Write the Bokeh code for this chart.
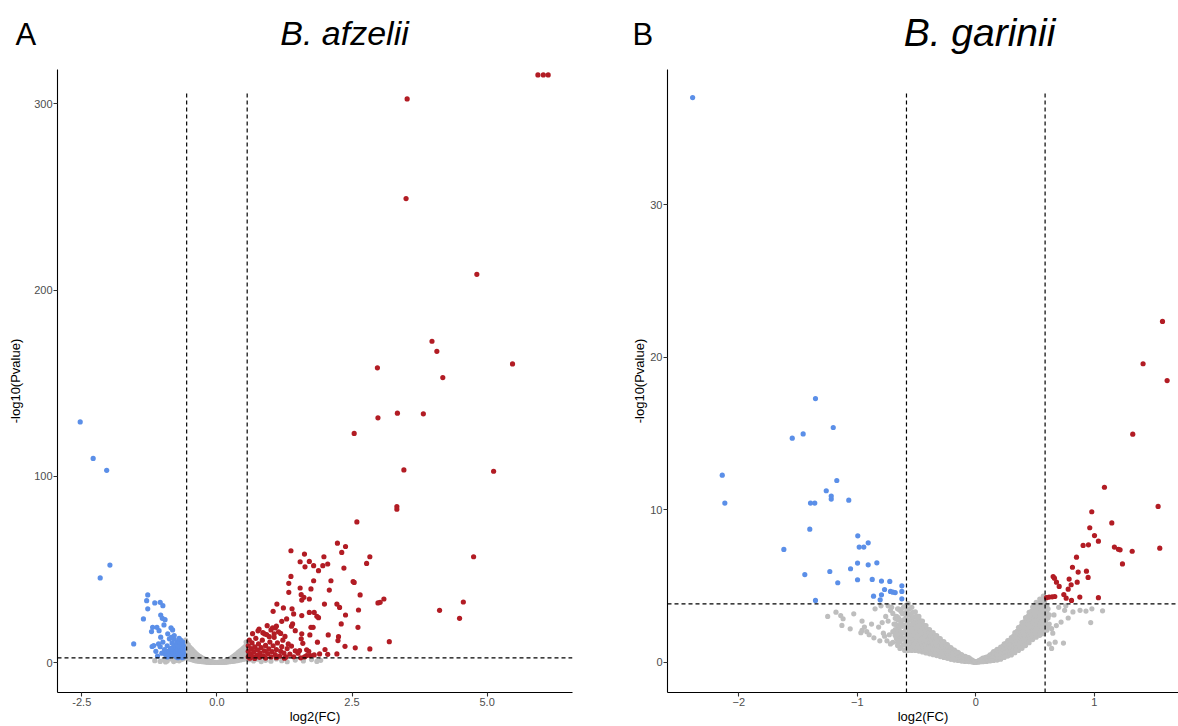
from bokeh.plotting import figure
from bokeh.layouts import row, column
from bokeh.models import Span, FixedTicker, NumeralTickFormatter, Range1d
from bokeh.core.properties import value
from bokeh.embed import file_html
from bokeh.resources import INLINE

FONT = "Liberation Sans"
BLUE = "#5B8FE8"
RED = "#B21C24"
GRAY = "#BEBEBE"

# ---------------- Panel A : B. afzelii ----------------
a_tag = "A"
a_title = "B. afzelii"
a_fc_cut = 0.56
a_p_cut = 2.5
a_xticks = [-2.5, 0.0, 2.5, 5.0]
a_yticks = [0, 100, 200, 300]

a_blue = [(-2.53, 129.2), (-2.29, 109.6), (-2.04, 103.2), (-1.98, 52.3), (-2.16, 45.4),
          (-1.28, 36.3), (-1.30, 33.2), (-1.15, 32.0), (-1.05, 32.3), (-1.00, 30.5), (-1.28, 28.8),
          (-1.36, 23.4), (-1.04, 25.5), (-1.01, 23.7), (-0.96, 23.0), (-0.98, 20.2), (-1.11, 18.9),
          (-1.19, 18.9), (-1.21, 16.6), (-1.07, 17.1), (-0.85, 18.6), (-0.82, 17.5), (-1.54, 10.0),
          (-1.20, 8.6), (-1.17, 9.1), (-1.04, 13.6), (-0.91, 15.4), (-0.88, 12.7), (-0.79, 14.5),
          (-0.62, 3.0), (-0.62, 5.0), (-0.62, 7.0), (-0.62, 9.0), (-0.63, 11.0), (-0.65, 4.0),
          (-0.65, 6.0), (-0.65, 8.0), (-0.66, 10.0), (-0.67, 12.0), (-0.68, 3.5), (-0.68, 5.5),
          (-0.69, 7.5), (-0.70, 9.5), (-0.71, 4.5), (-0.72, 6.5), (-0.73, 8.5), (-0.74, 11.0),
          (-0.75, 3.0), (-0.76, 5.0), (-0.77, 7.0), (-0.78, 9.5), (-0.80, 4.0), (-0.81, 6.0),
          (-0.82, 8.0), (-0.83, 10.5), (-0.85, 5.0), (-0.86, 7.5), (-0.88, 3.5), (-0.90, 6.0),
          (-0.92, 9.0), (-0.95, 4.5), (-0.97, 7.0), (-1.00, 11.0), (-1.02, 5.0), (-1.05, 8.5),
          (-1.08, 10.0), (-0.79, 12.5), (-0.84, 13.5), (-0.70, 13.0), (-0.64, 2.6), (-0.72, 2.6),
          (-0.92, 3.0), (-1.10, 3.5), (-1.13, 6.0), (-0.94, 3.7), (-0.85, 7.3)]

a_red = [(5.94, 315.5), (6.04, 315.5), (6.13, 315.5), (3.52, 302.6), (3.50, 249.1), (4.81, 208.4),
         (3.98, 172.5), (4.07, 167.1), (5.47, 160.3), (2.97, 158.2), (4.18, 153.0), (2.98, 131.4),
         (3.34, 133.9), (3.82, 133.5), (2.54, 123.0), (3.46, 103.4), (5.12, 102.7), (3.33, 83.7),
         (3.33, 82.3), (2.59, 75.5), (4.75, 56.8), (4.56, 32.5), (4.12, 28.0), (4.49, 23.7),
         (3.19, 11.2),
         (2.23, 64.1), (2.38, 62.3), (2.31, 59.1), (1.37, 60.0), (1.62, 58.2), (1.54, 54.1),
         (1.71, 54.3), (1.63, 51.4), (1.79, 52.0), (1.88, 49.3), (1.96, 52.0), (1.98, 56.8),
         (2.05, 52.9), (2.35, 50.7), (2.77, 53.2), (2.83, 56.8), (1.37, 46.2), (1.33, 42.5),
         (1.79, 43.9), (2.11, 43.9), (2.52, 43.5), (2.54, 43.0), (1.33, 37.7), (1.54, 40.0),
         (1.74, 39.5), (2.08, 38.9), (1.56, 36.4), (1.61, 35.0), (1.71, 34.1), (1.57, 33.5),
         (2.65, 36.3), (2.98, 32.0), (3.02, 32.3), (3.09, 34.1), (1.11, 31.4), (1.04, 27.5),
         (1.23, 29.3), (1.39, 28.8), (1.42, 26.1), (1.57, 25.2), (1.71, 26.9), (1.80, 26.9),
         (1.85, 24.8), (1.88, 24.1), (1.99, 31.4), (2.22, 31.4), (2.27, 29.6), (2.38, 25.5),
         (2.62, 28.2), (2.30, 20.7), (2.61, 18.9), (2.06, 14.8), (2.25, 13.9), (2.24, 11.8),
         (2.37, 8.7), (2.56, 7.9), (2.83, 7.3), (2.22, 4.6), (1.74, 18.9), (1.78, 18.9),
         (1.72, 14.8), (1.86, 10.9), (1.59, 10.3), (1.66, 6.8), (1.73, 3.7), (1.66, 3.7),
         (1.80, 4.1), (1.53, 6.4), (1.56, 12.7), (1.57, 15.4), (1.45, 17.1), (1.40, 20.7),
         (1.38, 19.5), (1.29, 23.4), (1.20, 22.1), (1.08, 18.6), (1.03, 18.6), (0.93, 19.8),
         (0.88, 15.4), (0.78, 18.0), (0.97, 13.9), (1.06, 15.4),
         (0.58, 3.0), (0.58, 6.0), (0.58, 9.0), (0.60, 12.0), (0.62, 4.5), (0.63, 7.5),
         (0.65, 10.5), (0.67, 3.2), (0.68, 5.8), (0.70, 8.4), (0.72, 13.0), (0.74, 4.0),
         (0.75, 6.8), (0.77, 10.0), (0.79, 2.8), (0.80, 5.2), (0.82, 8.0), (0.84, 12.0),
         (0.86, 3.6), (0.88, 6.2), (0.90, 9.2), (0.92, 15.0), (0.94, 4.8), (0.96, 7.3),
         (0.98, 11.0), (1.00, 3.0), (1.02, 5.8), (1.04, 9.0), (1.06, 13.5), (1.08, 4.2),
         (1.10, 7.0), (1.12, 10.5), (1.14, 16.5), (1.16, 3.4), (1.18, 6.0), (1.20, 8.5),
         (1.22, 12.0), (1.24, 5.0), (1.26, 14.0), (1.28, 3.0), (1.30, 7.5), (1.32, 10.0),
         (1.35, 4.5), (1.38, 8.8), (0.66, 15.5), (0.76, 17.0), (0.85, 16.0), (1.00, 17.5),
         (1.10, 19.5), (1.18, 15.6), (0.61, 2.3), (0.70, 2.2), (0.90, 2.4), (1.10, 2.6),
         (1.25, 2.3), (1.42, 3.1), (1.45, 6.3), (1.50, 5.0), (1.55, 2.5), (1.62, 3.0),
         (1.70, 6.0), (1.90, 4.6), (2.00, 7.0), (2.05, 4.4)]

a_gray = [(-0.58, 3), (-0.58, 6), (-0.58, 9), (-0.58, 12), (-0.56, 4.5), (-0.56, 7.5), (-0.56, 10.5),
          (-0.55, 2.5), (-0.55, 5), (-0.55, 8), (-0.53, 3.5), (-0.53, 6.5), (-0.53, 9.5),
          (-0.52, 2), (-0.52, 4.5), (-0.52, 7), (-0.50, 3.0), (-0.50, 5.5), (-0.50, 8.2),
          (-0.49, 1.8), (-0.49, 4), (-0.49, 6.6), (-0.47, 2.6), (-0.47, 4.8), (-0.47, 7.4),
          (-0.46, 1.5), (-0.46, 3.5), (-0.46, 5.8), (-0.44, 2.2), (-0.44, 4.2), (-0.44, 6.4),
          (-0.43, 1.2), (-0.43, 3), (-0.43, 5.0), (-0.41, 1.8), (-0.41, 3.6), (-0.41, 5.4),
          (-0.40, 1), (-0.40, 2.5), (-0.40, 4.4), (-0.38, 1.5), (-0.38, 3.0), (-0.38, 4.6),
          (-0.37, 0.8), (-0.37, 2), (-0.37, 3.8), (-0.35, 1.3), (-0.35, 2.6), (-0.35, 3.9),
          (-0.34, 0.7), (-0.34, 1.8), (-0.34, 3.2), (-0.32, 1.1), (-0.32, 2.2), (-0.32, 3.3),
          (-0.31, 0.6), (-0.31, 1.5), (-0.31, 2.7), (-0.29, 0.9), (-0.29, 1.9), (-0.29, 2.8),
          (-0.28, 0.5), (-0.28, 1.2), (-0.28, 2.3), (-0.26, 0.7), (-0.26, 1.5), (-0.26, 2.3),
          (-0.25, 0.4), (-0.25, 1), (-0.25, 1.9), (-0.23, 0.6), (-0.23, 1.2), (-0.23, 1.8),
          (-0.22, 0.3), (-0.22, 0.8), (-0.22, 1.5), (-0.20, 0.5), (-0.20, 1.0), (-0.20, 1.4),
          (-0.19, 0.25), (-0.19, 0.6), (-0.19, 1.2), (-0.17, 0.4), (-0.17, 0.8), (-0.17, 1.1),
          (-0.16, 0.2), (-0.16, 0.5), (-0.16, 0.9), (-0.14, 0.3), (-0.14, 0.6), (-0.14, 0.8),
          (-0.13, 0.15), (-0.13, 0.4), (-0.11, 0.2), (-0.11, 0.5), (-0.10, 0.1), (-0.10, 0.3),
          (-0.08, 0.15), (-0.08, 0.3), (-0.07, 0.05), (-0.05, 0.1), (-0.04, 0.02), (-0.02, 0.05),
          (0.0, 0.0), (0.02, 0.04), (0.04, 0.03), (0.04, 0.12), (0.05, 0.2), (0.07, 0.06),
          (0.07, 0.3), (0.08, 0.15), (0.10, 0.1), (0.10, 0.4), (0.11, 0.25), (0.13, 0.15),
          (0.13, 0.55), (0.14, 0.35), (0.16, 0.2), (0.16, 0.7), (0.17, 0.45), (0.17, 1.0),
          (0.19, 0.3), (0.19, 0.8), (0.19, 1.3), (0.20, 0.55), (0.20, 1.1), (0.22, 0.4),
          (0.22, 1.0), (0.22, 1.7), (0.23, 0.7), (0.23, 1.4), (0.25, 0.5), (0.25, 1.3),
          (0.25, 2.2), (0.26, 0.9), (0.26, 1.8), (0.28, 0.6), (0.28, 1.6), (0.28, 2.8),
          (0.29, 1.1), (0.29, 2.2), (0.31, 0.7), (0.31, 2.0), (0.31, 3.4), (0.32, 1.3),
          (0.32, 2.7), (0.34, 0.9), (0.34, 2.4), (0.34, 4.1), (0.35, 1.6), (0.35, 3.2),
          (0.37, 1.0), (0.37, 2.8), (0.37, 4.8), (0.38, 1.9), (0.38, 3.8), (0.40, 1.2),
          (0.40, 3.2), (0.40, 5.6), (0.41, 2.2), (0.41, 4.4), (0.43, 1.4), (0.43, 3.6),
          (0.43, 6.3), (0.44, 2.5), (0.44, 5.0), (0.46, 1.6), (0.46, 4.0), (0.46, 7.0),
          (0.47, 2.8), (0.47, 5.7), (0.49, 1.8), (0.49, 4.5), (0.49, 7.8), (0.50, 3.2),
          (0.50, 6.3), (0.52, 2.0), (0.52, 5.0), (0.52, 8.6), (0.53, 3.6), (0.53, 7.0),
          (0.55, 2.3), (0.55, 5.5), (0.55, 9.5), (0.54, 11.0),
          (-1.15, 1.0), (-1.05, 0.6), (-0.98, 1.5), (-0.92, 0.8), (-0.85, 1.9), (-0.80, 0.5),
          (-0.75, 1.2), (-0.70, 0.9), (-0.66, 1.6), (-0.62, 2.0), (-0.95, 0.3), (0.60, 1.5),
          (0.68, 0.8), (0.75, 1.8), (0.82, 0.5), (0.90, 1.2), (1.00, 0.7), (1.10, 1.9), (1.20, 1.0),
          (1.30, 0.4), (1.45, 1.3), (1.60, 0.8), (1.75, 1.6), (1.85, 0.6), (1.92, 1.2)]

# ---------------- Panel B : B. garinii ----------------
b_tag = "B"
b_title = "B. garinii"
b_fc_cut = 0.585
b_p_cut = 3.83
b_xticks = [-2, -1, 0, 1]
b_yticks = [0, 10, 20, 30]

b_blue = [(-2.39, 37.05), (-1.353, 17.30), (-1.203, 15.40), (-1.549, 14.70), (-1.457, 14.98),
          (-2.140, 12.27), (-2.118, 10.44), (-1.173, 11.92), (-1.262, 11.25), (-1.220, 10.9),
          (-1.220, 10.7), (-1.072, 10.63), (-1.395, 10.44), (-1.359, 10.44), (-1.401, 8.73),
          (-1.620, 7.40), (-0.996, 8.29), (-0.984, 7.55), (-0.945, 7.55), (-0.908, 7.83),
          (-0.998, 6.50), (-0.908, 6.39), (-0.835, 6.52), (-1.057, 6.13), (-1.443, 5.75),
          (-1.232, 5.95), (-1.165, 5.21), (-0.998, 5.41), (-0.874, 5.43), (-0.796, 5.32),
          (-0.726, 5.30), (-0.770, 4.77), (-0.72, 4.64), (-0.70, 4.59), (-0.68, 4.57),
          (-0.624, 5.01), (-0.624, 4.64), (-0.624, 4.16), (-0.796, 4.42), (-0.863, 4.33),
          (-0.807, 4.09), (-1.353, 4.05)]

b_red = [(1.576, 22.36), (1.412, 19.58), (1.615, 18.48), (1.325, 14.96), (1.086, 11.48),
         (1.539, 10.22), (0.979, 9.87), (1.148, 9.14), (0.962, 8.82), (1.002, 8.31), (1.035, 7.94),
         (0.906, 7.66), (0.951, 7.70), (1.170, 7.55), (1.204, 7.41), (1.218, 7.37), (1.320, 7.28),
         (1.553, 7.48), (0.850, 6.89), (1.238, 6.45), (0.816, 6.23), (0.864, 5.91), (0.934, 5.97),
         (0.948, 5.56), (0.788, 5.45), (0.856, 5.25), (0.805, 5.08), (0.653, 5.62), (0.664, 5.51),
         (0.681, 5.25), (0.704, 4.97), (0.780, 4.79), (0.743, 4.44), (0.763, 4.20), (0.808, 4.05),
         (0.878, 4.27), (1.035, 4.23), (0.597, 4.23), (0.619, 4.27), (0.645, 4.29), (0.667, 4.31)]

# gray (non-significant) cloud of panel B, read column by column: log2FC -> -log10(P) values
b_gray_left = [
    (-0.01, [0.0, 0.01, 0.02, 0.03]), (-0.02, [0.02, 0.04, 0.06, 0.07]),
    (-0.03, [0.02, 0.04, 0.07, 0.1, 0.13]), (-0.04, [0.03, 0.08, 0.12, 0.16]),
    (-0.05, [0.07, 0.12, 0.18, 0.23]), (-0.06, [0.04, 0.1, 0.17, 0.23, 0.3]),
    (-0.07, [0.07, 0.14, 0.22, 0.29]), (-0.08, [0.1, 0.18, 0.26, 0.33]),
    (-0.09, [0.05, 0.13, 0.21, 0.3, 0.38]), (-0.10, [0.08, 0.17, 0.25, 0.34]),
    (-0.11, [0.13, 0.22, 0.32, 0.42]), (-0.12, [0.07, 0.18, 0.29, 0.39, 0.5]),
    (-0.13, [0.12, 0.24, 0.35, 0.47]), (-0.14, [0.18, 0.3, 0.43, 0.56]),
    (-0.15, [0.11, 0.25, 0.38, 0.52, 0.65]), (-0.16, [0.17, 0.31, 0.46, 0.6]),
    (-0.17, [0.23, 0.39, 0.54, 0.7]), (-0.18, [0.14, 0.31, 0.47, 0.64, 0.8]),
    (-0.19, [0.21, 0.38, 0.56, 0.73]), (-0.20, [0.29, 0.47, 0.66, 0.84]),
    (-0.21, [0.19, 0.38, 0.58, 0.77, 0.96]), (-0.22, [0.28, 0.48, 0.69, 0.89]),
    (-0.23, [0.37, 0.59, 0.8, 1.02]), (-0.24, [0.25, 0.48, 0.71, 0.93, 1.16]),
    (-0.25, [0.35, 0.59, 0.82, 1.06]), (-0.26, [0.46, 0.71, 0.96, 1.21]),
    (-0.27, [0.31, 0.57, 0.83, 1.09, 1.35]), (-0.28, [0.42, 0.69, 0.97, 1.24]),
    (-0.29, [0.54, 0.82, 1.1, 1.39]), (-0.30, [0.37, 0.67, 0.96, 1.26, 1.55]),
    (-0.31, [0.49, 0.8, 1.11, 1.42]), (-0.32, [0.62, 0.94, 1.26, 1.58]),
    (-0.33, [0.43, 0.76, 1.09, 1.42, 1.75]), (-0.34, [0.56, 0.9, 1.24, 1.58]),
    (-0.35, [0.71, 1.06, 1.41, 1.76]), (-0.36, [0.49, 0.85, 1.22, 1.58, 1.94]),
    (-0.37, [0.63, 1.01, 1.38, 1.75]), (-0.38, [0.79, 1.17, 1.56, 1.94]),
    (-0.39, [0.55, 0.95, 1.34, 1.74, 2.13]), (-0.40, [0.71, 1.11, 1.52, 1.93]),
    (-0.41, [0.88, 1.3, 1.73, 2.16]), (-0.42, [0.61, 1.06, 1.51, 1.95, 2.4]),
    (-0.43, [0.79, 1.25, 1.72, 2.19]), (-0.44, [0.98, 1.46, 1.95, 2.44]),
    (-0.45, [0.67, 1.18, 1.69, 2.19, 2.7]), (-0.46, [0.87, 1.39, 1.92, 2.45]),
    (-0.47, [1.08, 1.62, 2.17, 2.72]), (-0.48, [0.73, 1.3, 1.87, 2.43, 3.0]),
    (-0.49, [0.95, 1.53, 2.12, 2.71]), (-0.50, [1.18, 1.78, 2.39, 3.0]),
    (-0.51, [0.77, 1.4, 2.04, 2.67, 3.3]), (-0.52, [0.99, 1.65, 2.3, 2.96]),
    (-0.53, [1.23, 1.91, 2.59, 3.27]), (-0.54, [0.77, 1.48, 2.19, 2.89, 3.6]),
    (-0.55, [1.01, 1.73, 2.45, 3.17]), (-0.56, [1.27, 2.01, 2.76, 3.5]),
    (-0.57, [0.77, 1.54, 2.31, 3.08, 3.85]), (-0.58, [1.03, 1.81, 2.59, 3.38]),
    (-0.59, [1.31, 2.12, 2.92, 3.73]), (-0.60, [0.77, 1.59, 2.41, 3.23]),
    (-0.61, [1.13, 1.95, 2.78, 3.6]), (-0.62, [1.51, 2.35, 3.18]),
    (-0.63, [1.0, 1.78, 2.55, 3.33]), (-0.64, [1.33, 2.03, 2.73, 3.43]),
    (-0.65, [1.62, 2.24, 2.87, 3.49]), (-0.66, [1.3, 1.85, 2.4, 2.95, 3.5]),
    (-0.67, [1.55, 2.0, 2.45, 2.9]), (-0.68, [1.75, 2.13, 2.5, 2.88]),
]
b_gray_right = [
    (0.00, [0.0, 0.02]), (0.01, [0.01, 0.02, 0.03]), (0.02, [0.02, 0.04, 0.05, 0.07]),
    (0.03, [0.02, 0.04, 0.07, 0.09, 0.12]), (0.04, [0.03, 0.07, 0.11, 0.15]),
    (0.05, [0.06, 0.11, 0.16, 0.2]), (0.06, [0.03, 0.09, 0.15, 0.2, 0.26]),
    (0.07, [0.06, 0.12, 0.19, 0.25]), (0.08, [0.1, 0.16, 0.23, 0.3]),
    (0.09, [0.05, 0.12, 0.2, 0.27, 0.34]), (0.10, [0.09, 0.16, 0.24, 0.32]),
    (0.11, [0.13, 0.22, 0.3, 0.39]), (0.12, [0.08, 0.18, 0.28, 0.38, 0.48]),
    (0.13, [0.13, 0.24, 0.36, 0.47]), (0.14, [0.19, 0.32, 0.45, 0.58]),
    (0.15, [0.11, 0.26, 0.4, 0.55, 0.69]), (0.16, [0.17, 0.33, 0.49, 0.65]),
    (0.17, [0.24, 0.41, 0.58, 0.74]), (0.18, [0.14, 0.32, 0.49, 0.67, 0.84]),
    (0.19, [0.21, 0.39, 0.57, 0.75]), (0.20, [0.3, 0.48, 0.67, 0.86]),
    (0.21, [0.2, 0.4, 0.6, 0.79, 0.99]), (0.22, [0.31, 0.51, 0.72, 0.92]),
    (0.23, [0.42, 0.63, 0.85, 1.06]), (0.24, [0.31, 0.53, 0.76, 0.98, 1.2]),
    (0.25, [0.42, 0.65, 0.88, 1.12]), (0.26, [0.53, 0.77, 1.02, 1.26]),
    (0.27, [0.4, 0.65, 0.91, 1.16, 1.41]), (0.28, [0.51, 0.77, 1.03, 1.3]),
    (0.29, [0.62, 0.9, 1.17, 1.45]), (0.30, [0.47, 0.76, 1.05, 1.33, 1.62]),
    (0.31, [0.62, 0.92, 1.22, 1.52]), (0.32, [0.78, 1.1, 1.41, 1.73]),
    (0.33, [0.62, 0.95, 1.28, 1.61, 1.94]), (0.34, [0.79, 1.13, 1.48, 1.82]),
    (0.35, [0.96, 1.32, 1.68, 2.04]), (0.36, [0.77, 1.15, 1.52, 1.9, 2.27]),
    (0.37, [0.95, 1.34, 1.73, 2.12]), (0.38, [1.13, 1.54, 1.94, 2.35]),
    (0.39, [0.91, 1.33, 1.75, 2.17, 2.59]), (0.40, [1.11, 1.54, 1.98, 2.41]),
    (0.41, [1.32, 1.77, 2.21, 2.66]), (0.42, [1.09, 1.55, 2.01, 2.47, 2.93]),
    (0.43, [1.31, 1.78, 2.25, 2.73]), (0.44, [1.54, 2.03, 2.51, 3.0]),
    (0.45, [1.28, 1.78, 2.28, 2.77, 3.27]), (0.46, [1.52, 2.03, 2.54, 3.05]),
    (0.47, [1.76, 2.28, 2.8, 3.33]), (0.48, [1.48, 2.02, 2.55, 3.09, 3.62]),
    (0.49, [1.72, 2.27, 2.82, 3.37]), (0.50, [1.98, 2.54, 3.1, 3.66]),
    (0.51, [1.64, 2.21, 2.78, 3.35, 3.92]), (0.52, [1.87, 2.45, 3.03, 3.61]),
    (0.53, [2.11, 2.7, 3.29, 3.88]), (0.54, [1.76, 2.36, 2.95, 3.55, 4.14]),
    (0.55, [2.0, 2.6, 3.2, 3.8]), (0.56, [2.24, 2.85, 3.46, 4.07]),
    (0.57, [1.87, 2.49, 3.1, 3.72, 4.33]), (0.58, [2.11, 2.73, 3.36, 3.98]),
    (0.59, [2.3, 2.75, 3.2, 3.65]), (0.60, [2.1, 2.5, 2.9, 3.3, 3.7]),
    (0.61, [2.3, 2.9, 3.5]), (0.62, [2.5, 3.1]),
]
b_gray_extra = [(-1.25, 3.0), (-1.18, 3.28), (-1.14, 3.06), (-1.12, 2.85), (-1.13, 2.41), (-1.06, 2.19),
                (-1.03, 3.17), (-0.96, 2.7), (-0.94, 2.3), (-0.92, 2.0), (-0.90, 1.8), (-0.88, 2.5),
                (-0.86, 1.6), (-0.96, 2.08), (-0.97, 1.93), (-0.82, 2.3), (-0.79, 2.6), (-0.77, 1.7),
                (-0.75, 1.4), (-0.72, 1.2), (-0.70, 1.3), (-0.66, 1.1), (-0.64, 0.9), (-0.72, 3.4),
                (-0.70, 3.2), (-0.67, 3.0), (-0.66, 2.8), (-0.63, 2.5), (-0.85, 3.5), (-0.80, 3.7),
                (-0.70, 2.0), (-0.74, 2.7), (-0.78, 1.9), (-0.69, 2.5), (-0.73, 1.8), (-0.76, 3.0),
                (-0.81, 1.4), (-0.68, 1.8), (-0.71, 3.6), (-0.74, 3.7),
                (0.97, 2.6), (1.07, 3.37), (0.67, 1.31), (0.74, 1.25), (0.72, 2.63), (0.78, 2.9),
                (0.82, 3.3), (0.88, 3.4), (0.93, 3.35), (0.98, 3.5), (0.66, 3.1), (0.68, 2.4),
                (0.70, 3.6), (0.64, 2.2), (0.65, 1.9), (0.75, 3.4), (0.76, 3.7), (0.62, 1.2), (0.64, 0.9)]

b_gray = ([(x, y) for x, col in b_gray_left for y in col]
          + [(x, y) for x, col in b_gray_right for y in col] + b_gray_extra)


def xs(pts):
    return [p[0] for p in pts]


def ys(pts):
    return [p[1] for p in pts]


def style(p, xticks, yticks, xfmt, ylab_standoff):
    p.outline_line_color = None
    p.grid.visible = False
    for ax in (p.xaxis[0], p.yaxis[0]):
        ax.axis_line_color = "black"
        ax.axis_line_width = 1.1
        ax.major_tick_line_color = "#333333"
        ax.major_tick_line_width = 1.1
        ax.major_tick_in = 0
        ax.major_tick_out = 4
        ax.minor_tick_line_color = None
        ax.major_label_text_font = FONT
        ax.major_label_text_font_size = "11px"
        ax.major_label_text_color = "#4D4D4D"
        ax.axis_label_text_font = FONT
        ax.axis_label_text_font_size = "13px"
        ax.axis_label_text_font_style = "normal"
        ax.axis_label_text_color = "black"
        ax.major_label_standoff = 1
        ax.axis_label_standoff = 0
    p.yaxis[0].axis_label_standoff = ylab_standoff
    p.xaxis.ticker = FixedTicker(ticks=xticks)
    p.yaxis.ticker = FixedTicker(ticks=yticks)
    if xfmt:
        p.xaxis.formatter = NumeralTickFormatter(format=xfmt)
    p.xaxis.axis_label = "log2(FC)"
    p.yaxis.axis_label = "-log10(Pvalue)"


def header(width, x0, tag, tag_x, title, title_x, title_size):
    h = figure(width=width, height=60, x_range=Range1d(x0, x0 + width), y_range=Range1d(60, 0),
               output_backend="svg", toolbar_location=None, x_axis_type=None, y_axis_type=None,
               min_border=0)
    h.outline_line_color = None
    h.grid.visible = False
    h.text(x=[tag_x], y=[34], text=[tag], text_font=value(FONT), text_font_size=value("31px"),
           text_baseline="middle", text_align="left", text_color="black")
    h.text(x=[title_x], y=[32], text=[title], text_font=value(FONT), text_font_size=value(title_size),
           text_font_style="italic", text_baseline="middle", text_align="center", text_color="black")
    return h


def panel(width, xr, yr, bl, br, gray, blue, red, fc, pc, vtop, xticks, yticks, xfmt, ylab_standoff):
    p = figure(width=width, height=666, x_range=xr, y_range=yr, output_backend="svg",
               toolbar_location=None, min_border_left=bl, min_border_right=br,
               min_border_top=9, min_border_bottom=34)
    style(p, xticks, yticks, xfmt, ylab_standoff)
    p.scatter(xs(gray), ys(gray), size=5.2, color=GRAY, line_color=None)
    p.scatter(xs(blue), ys(blue), size=5.2, color=BLUE, line_color=None)
    p.scatter(xs(red), ys(red), size=5.2, color=RED, line_color=None)
    p.segment(x0=[-fc, fc], y0=[yr[0], yr[0]], x1=[-fc, fc], y1=[vtop, vtop],
              line_color="black", line_width=1.2, line_dash="4 3")
    p.add_layout(Span(location=pc, dimension="width", line_color="black",
                      line_width=1.2, line_dash="4 3"))
    return p


ha = header(590, 0, a_tag, 15, a_title, 344, "34px")
hb = header(588, 590, b_tag, 632, b_title, 979, "39px")
pa = panel(590, (-2.95, 6.58), (-16.1, 318.4), 57, 18, a_gray, a_blue, a_red,
           a_fc_cut, a_p_cut, 307, a_xticks, a_yticks, "0.0", 8)
pb = panel(588, (-2.602, 1.711), (-1.99, 38.89), 77, 0, b_gray, b_blue, b_red,
           b_fc_cut, b_p_cut, 37.5, b_xticks, b_yticks, None, 0)

layout = column(row(ha, hb), row(pa, pb))
open("out.html", "w").write(file_html(layout, INLINE))
